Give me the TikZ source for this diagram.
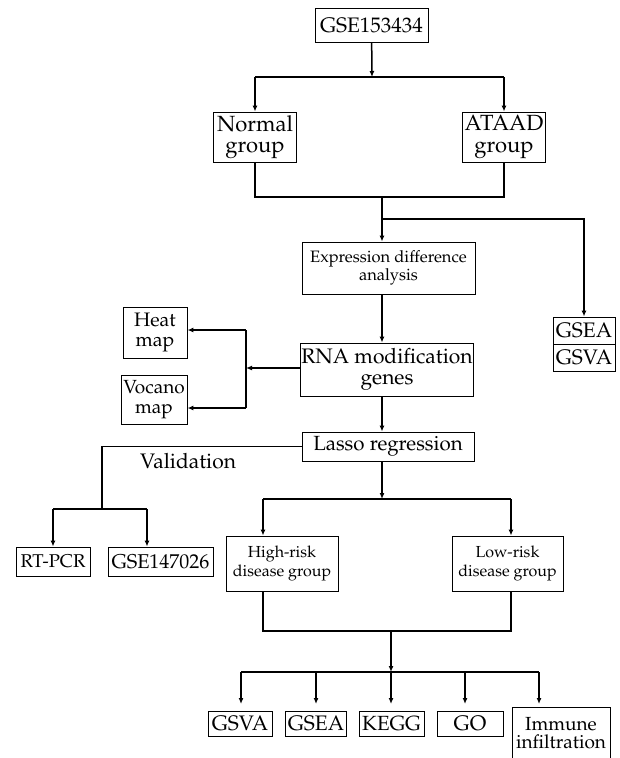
\documentclass[tikz,border=0pt]{standalone}
\usepackage[T1]{fontenc}
\usepackage{mathpazo}
\usetikzlibrary{arrows.meta, positioning, calc}

\begin{document}
\begin{tikzpicture}[
  x=1pt, y=-1pt,
  box/.style={draw, line width=0.9pt, inner sep=1pt, align=center, font=\fontsize{21}{20.5}\selectfont},
  small/.style={font=\fontsize{16.5}{18.5}\selectfont},
  link/.style={line width=1.5pt},
  arrow/.style={link, -{Latex[length=6pt, width=5pt]}}
]

  \useasboundingbox (0,0) rectangle (619,758);
  \clip (0,0) rectangle (619,758);

  % Daten und Gruppen
  \node[box, minimum width=113pt, minimum height=34pt] (src) at (371.5,25) {GSE153434};
  \node[box, minimum width=83pt, minimum height=50pt, font=\fontsize{22}{21.5}\selectfont] (normal) at (255,137) {Normal\\group};
  \node[box, minimum width=83pt, minimum height=50pt, font=\fontsize{22}{21.5}\selectfont] (ataad) at (504,137) {ATAAD\\group};

  % Analyse
  \node[box, small, minimum width=173pt, minimum height=52pt] (expr) at (388.5,268) {Expression difference\\analysis};
  \node[box, minimum width=62pt, minimum height=27pt] (gsea) at (584,330.5) {GSEA};
  \node[box, minimum width=62pt, minimum height=27pt] (gsva) at (584,357.5) {GSVA};
  \node[box, minimum width=172pt, minimum height=53pt] (rna) at (387,369.5) {RNA modification\\genes};
  \node[box, minimum width=64pt, minimum height=51pt, font=\fontsize{19.5}{20}\selectfont] (heat) at (155,332.5) {Heat\\map};
  \node[box, minimum width=66pt, minimum height=49pt, font=\fontsize{19}{20}\selectfont] (vocano) at (154,399.5) {Vocano\\map};
  \node[box, minimum width=172pt, minimum height=29pt, font=\fontsize{20.5}{20}\selectfont] (lasso) at (388,446.5) {Lasso regression};

  % Validierung
  \node[font=\fontsize{21}{20}\selectfont] (validtxt) at (188,461) {Validation};
  \node[box, minimum width=74pt, minimum height=29pt, font=\fontsize{18.5}{18}\selectfont] (rtpcr) at (53,561.5) {RT-PCR};
  \node[box, minimum width=105pt, minimum height=29pt, font=\fontsize{20}{18}\selectfont] (gse147) at (160.5,561.5) {GSE147026};

  % Risikogruppen
  \node[box, small, minimum width=112pt, minimum height=55pt, font=\fontsize{16}{19}\selectfont] (high) at (282,563.5) {High-risk\\disease group};
  \node[box, small, minimum width=111pt, minimum height=55pt, font=\fontsize{16}{19}\selectfont] (low) at (507.5,563.5) {Low-risk\\disease group};

  % Auswertung
  \node[box, minimum width=64pt, minimum height=25pt] (gsvab) at (240,723.5) {GSVA};
  \node[box, minimum width=61pt, minimum height=25pt] (gseab) at (316,723.5) {GSEA};
  \node[box, minimum width=65pt, minimum height=25pt, font=\fontsize{20.5}{19}\selectfont] (keggb) at (391.5,723.5) {KEGG};
  \node[box, minimum width=66pt, minimum height=25pt] (gob) at (470,723.5) {GO};
  \node[box, minimum width=98pt, minimum height=52pt, font=\fontsize{19}{18.5}\selectfont] (immune) at (561,733) {Immune\\infiltration};

  % Verbindungen oben
  \coordinate (split) at (372,77);
  \draw[arrow] (src) -- (split);
  \draw[link] (normal.north |- split) -- (ataad.north |- split);
  \draw[arrow] (normal.north |- split) -- (normal);
  \draw[arrow] (ataad.north |- split) -- (ataad);

  \coordinate (merge) at (382,197);
  \draw[link] (normal.south) |- (merge) -| (ataad.south);
  \draw[arrow] (merge) -- (merge |- expr.north);
  \coordinate (branch) at (382,219);
  \draw[arrow] (branch) -| (gsea.north);

  \draw[arrow] (expr.south -| merge) -- (rna.north -| merge);
  \coordinate (viz) at (246,368);
  \coordinate (vizTop) at (246,330);
  \coordinate (vizBot) at (246,408);
  \draw[arrow] (rna.west |- viz) -- (viz);
  \draw[link] (vizTop) -- (vizBot);
  \draw[arrow] (vizTop) -- (vizTop -| heat.east);
  \draw[arrow] (vizBot) -- (vizBot -| vocano.east);

  % Verbindungen Mitte
  \draw[arrow] (rna.south -| merge) -- (lasso.north -| merge);
  \coordinate (valid) at (102,509);
  \coordinate (validL) at (53,509);
  \coordinate (validR) at (147,509);
  \draw[link] (lasso.west) -| (valid);
  \draw[link] (validL) -- (validR);
  \draw[arrow] (validL) -- (validL |- rtpcr.north);
  \draw[arrow] (validR) -- (validR |- gse147.north);

  \coordinate (risk) at (382,499);
  \coordinate (riskL) at (263,499);
  \coordinate (riskR) at (511,499);
  \draw[arrow] (lasso.south -| merge) -- (risk);
  \draw[link] (riskL) -- (riskR);
  \draw[arrow] (riskL) -- (riskL |- high.north);
  \draw[arrow] (riskR) -- (riskR |- low.north);

  % Verbindungen unten
  \coordinate (pool) at (391,631);
  \coordinate (fan) at (391,672);
  \coordinate (fanL) at (241,672);
  \coordinate (fanR) at (539,672);
  \draw[link] (high.south -| riskL) |- (pool) -| (low.south -| riskR);
  \draw[arrow] (pool) -- (fan);
  \draw[link] (fanL) -- (fanR);
  \draw[arrow] (fanL) -- ++(0,32);
  \draw[arrow] (fan -| gseab) -- ++(0,32);
  \draw[arrow] (fan) -- ++(0,32);
  \draw[arrow] ($(fan)!0.5!(fanR)$) -- ++(0,32);
  \draw[arrow] (fanR) -- ++(0,32);

\end{tikzpicture}
\end{document}
